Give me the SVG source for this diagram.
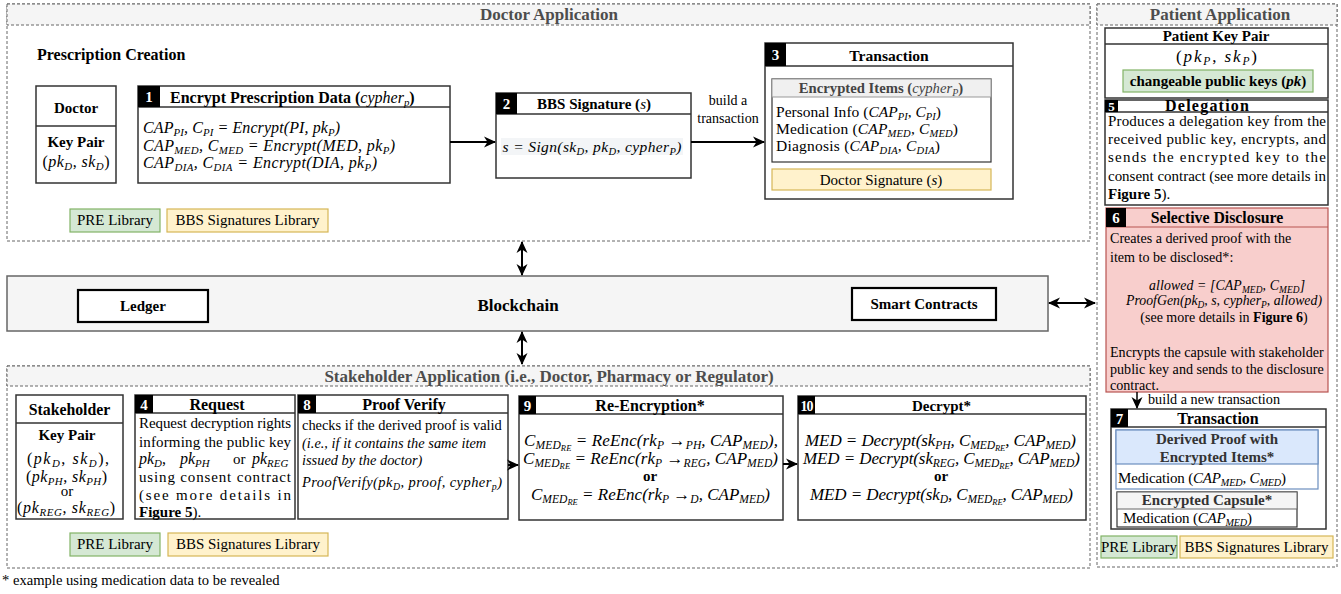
<svg xmlns="http://www.w3.org/2000/svg" width="1341" height="594" viewBox="0 0 1341 594">
<style>
svg{font-size:15px}
text{font-family:"Liberation Serif","Times New Roman",serif;fill:#000}
.ct{fill:none;stroke:#666;stroke-width:1;stroke-dasharray:3 2}
.hd{fill:#f5f5f5;stroke:#666;stroke-width:1;stroke-dasharray:3 2}
.ttl{font-size:17px;font-weight:bold;fill:#4d4d4d;text-anchor:middle}
.box{fill:#fff;stroke:#333;stroke-width:1.5}
.sep{stroke:#333;stroke-width:1.5}
.num{fill:#000}
.nt{fill:#fff;font-size:15px;font-weight:bold;text-anchor:middle}
.h{font-size:16px;font-weight:bold;text-anchor:middle}
.b{font-weight:bold}
.c{text-anchor:middle}
.m{font-style:italic}
.i{font-style:italic}
.s{font-size:0.68em;font-style:italic}
.ss{font-size:0.5em;font-style:italic}
.pre{fill:#d5e8d4;stroke:#82b366;stroke-width:1.2}
.bbs{fill:#fff2cc;stroke:#d6b656;stroke-width:1.2}
.wire{stroke:#000;stroke-width:2;fill:none}
.bc{fill:#fff;stroke:#000;stroke-width:2.2}
</style>
<defs>
<marker id="ah" viewBox="0 0 12 12" refX="11" refY="6" markerWidth="12" markerHeight="12" markerUnits="userSpaceOnUse" orient="auto-start-reverse">
<path d="M0,0.5 L12,6 L0,11.5 L3.5,6 z" fill="#000"/>
</marker>
</defs>

<!-- application containers -->
<g id="doctor-app">
<rect x="7" y="4" width="1083" height="237" class="ct"/>
<rect x="7" y="4" width="1083" height="21" class="hd"/>
<text x="549" y="20" class="ttl">Doctor Application</text>
<text x="37" y="60" class="b" font-size="16">Prescription Creation</text>
</g>
<g id="stakeholder-app">
<rect x="7" y="366" width="1083" height="202" class="ct"/>
<rect x="7" y="366" width="1083" height="20" class="hd"/>
<text x="549" y="382" class="ttl">Stakeholder Application (i.e., Doctor, Pharmacy or Regulator)</text>
</g>
<g id="patient-app">
<rect x="1097" y="4" width="240" height="563" class="ct"/>
<rect x="1097" y="4" width="240" height="21" class="hd"/>
<text x="1220" y="20" class="ttl">Patient Application</text>
</g>

<!-- doctor side -->
<g id="doctor">
<rect x="36" y="86" width="80" height="97" class="box"/>
<line x1="36" y1="126" x2="116" y2="126" class="sep"/>
<text x="76" y="113" class="b c">Doctor</text>
<text x="76" y="147" class="b c">Key Pair</text>
<text x="76" y="167" class="c" font-size="16" textLength="67" lengthAdjust="spacing">(<tspan class="m">pk</tspan><tspan class="s" dy="3">D</tspan><tspan dy="-3">, </tspan><tspan class="m">sk</tspan><tspan class="s" dy="3">D</tspan><tspan dy="-3">)</tspan></text>
</g>

<g id="step1">
<rect x="138" y="86" width="312" height="97" class="box"/>
<line x1="138" y1="107" x2="450" y2="107" class="sep"/>
<rect x="138" y="86" width="22" height="21" class="num"/>
<text x="149" y="102" class="nt">1</text>
<text x="170" y="103" font-size="16" class="b">Encrypt Prescription Data (<tspan class="m" font-weight="normal">cypher</tspan><tspan class="s" font-weight="normal" dy="3">p</tspan><tspan dy="-3">)</tspan></text>
<text x="143" y="133" class="m" font-size="16" textLength="197" lengthAdjust="spacing">CAP<tspan class="s" dy="3">PI</tspan><tspan dy="-3">, C</tspan><tspan class="s" dy="3">PI</tspan><tspan dy="-3"> = Encrypt(PI, pk</tspan><tspan class="s" dy="3">P</tspan><tspan dy="-3">)</tspan></text>
<text x="143" y="151" class="m" font-size="16" textLength="252" lengthAdjust="spacing">CAP<tspan class="s" dy="3">MED</tspan><tspan dy="-3">, C</tspan><tspan class="s" dy="3">MED</tspan><tspan dy="-3"> = Encrypt(MED, pk</tspan><tspan class="s" dy="3">P</tspan><tspan dy="-3">)</tspan></text>
<text x="143" y="168" class="m" font-size="16" textLength="234" lengthAdjust="spacing">CAP<tspan class="s" dy="3">DIA</tspan><tspan dy="-3">, C</tspan><tspan class="s" dy="3">DIA</tspan><tspan dy="-3"> = Encrypt(DIA, pk</tspan><tspan class="s" dy="3">P</tspan><tspan dy="-3">)</tspan></text>
</g>

<g id="step2">
<rect x="496" y="93" width="195" height="85" class="box"/>
<line x1="496" y1="114" x2="691" y2="114" class="sep"/>
<rect x="496" y="93" width="21" height="21" class="num"/>
<text x="506.5" y="109" class="nt">2</text>
<text x="594" y="109" class="b c">BBS Signature (<tspan class="m" font-weight="normal">s</tspan>)</text>
<rect x="501" y="138" width="182" height="17" fill="#f3f5f7"/>
<text x="592" y="152" class="m c" font-size="15.5" textLength="179" lengthAdjust="spacing">s = Sign(sk<tspan class="s" dy="3">D</tspan><tspan dy="-3">, pk</tspan><tspan class="s" dy="3">D</tspan><tspan dy="-3">, cypher</tspan><tspan class="s" dy="3">P</tspan><tspan dy="-3">)</tspan></text>
</g>

<g id="step3">
<rect x="765" y="43" width="248" height="156" class="box"/>
<line x1="765" y1="66" x2="1013" y2="66" class="sep"/>
<rect x="765" y="43" width="21" height="23" class="num"/>
<text x="775.5" y="60" class="nt">3</text>
<text x="889" y="61" class="h" style="font-size:15.6px">Transaction</text>
<rect x="772" y="79" width="219" height="83" fill="#fff" stroke="#333" stroke-width="1.2"/>
<rect x="772" y="79" width="219" height="18" fill="#f0f0f0" stroke="#999" stroke-width="1"/>
<text x="881" y="93" class="b c" font-size="14.7" style="fill:#444">Encrypted Items (<tspan class="m" font-weight="normal">cypher</tspan><tspan class="s" font-weight="normal" dy="3">P</tspan><tspan dy="-3">)</tspan></text>
<text x="776" y="117" font-size="15.5" textLength="165" lengthAdjust="spacing">Personal Info (<tspan class="i">CAP</tspan><tspan class="s" dy="3">PI</tspan><tspan dy="-3">, </tspan><tspan class="i">C</tspan><tspan class="s" dy="3">PI</tspan><tspan dy="-3">)</tspan></text>
<text x="776" y="134" font-size="15.5" textLength="182" lengthAdjust="spacing">Medication (<tspan class="i">CAP</tspan><tspan class="s" dy="3">MED</tspan><tspan dy="-3">, </tspan><tspan class="i">C</tspan><tspan class="s" dy="3">MED</tspan><tspan dy="-3">)</tspan></text>
<text x="776" y="151" font-size="15.5" textLength="164" lengthAdjust="spacing">Diagnosis (<tspan class="i">CAP</tspan><tspan class="s" dy="3">DIA</tspan><tspan dy="-3">, </tspan><tspan class="i">C</tspan><tspan class="s" dy="3">DIA</tspan><tspan dy="-3">)</tspan></text>
<rect x="772" y="169" width="219" height="21" class="bbs"/>
<text x="881" y="185" class="c">Doctor Signature (<tspan class="i">s</tspan>)</text>
</g>

<g id="doctor-libs">
<rect x="70" y="209" width="90" height="23" class="pre"/>
<text x="115" y="225" class="c">PRE Library</text>
<rect x="167" y="209" width="161" height="23" class="bbs"/>
<text x="247.5" y="225" class="c">BBS Signatures Library</text>
</g>

<!-- blockchain layer -->
<g id="blockchain">
<rect x="7" y="276" width="1041" height="55" fill="#f5f5f5" stroke="#666" stroke-width="1.5"/>
<text x="518" y="311" class="h" style="font-size:17px">Blockchain</text>
</g>
<g id="ledger">
<rect x="78" y="290" width="130" height="32" class="bc"/>
<text x="143" y="311" class="b c">Ledger</text>
</g>
<g id="smart-contracts">
<rect x="852" y="288" width="144" height="32" class="bc"/>
<text x="924" y="309" class="b c">Smart Contracts</text>
</g>

<!-- stakeholder side -->
<g id="stakeholder">
<rect x="16" y="395" width="107" height="124" class="box"/>
<line x1="16" y1="423" x2="123" y2="423" class="sep"/>
<text x="69.5" y="415" class="b c" font-size="15.8">Stakeholder</text>
<text x="67" y="440" class="b c">Key Pair</text>
<text x="68" y="464" class="c" font-size="16" textLength="82" lengthAdjust="spacing">(<tspan class="i">pk</tspan><tspan class="s" dy="3">D</tspan><tspan dy="-3">, </tspan><tspan class="i">sk</tspan><tspan class="s" dy="3">D</tspan><tspan dy="-3">),</tspan></text>
<text x="66.5" y="482" class="c" font-size="16" textLength="81" lengthAdjust="spacing">(<tspan class="i">pk</tspan><tspan class="s" dy="3">PH</tspan><tspan dy="-3">, </tspan><tspan class="i">sk</tspan><tspan class="s" dy="3">PH</tspan><tspan dy="-3">)</tspan></text>
<text x="67" y="496" class="c">or</text>
<text x="66" y="513" class="c" font-size="16" textLength="98" lengthAdjust="spacing">(<tspan class="i">pk</tspan><tspan class="s" dy="3">REG</tspan><tspan dy="-3">, </tspan><tspan class="i">sk</tspan><tspan class="s" dy="3">REG</tspan><tspan dy="-3">)</tspan></text>
</g>

<g id="step4">
<rect x="135" y="395" width="160" height="124" class="box"/>
<line x1="135" y1="413" x2="295" y2="413" class="sep"/>
<rect x="135" y="395" width="18" height="18" class="num"/>
<text x="144" y="410" class="nt">4</text>
<text x="217" y="410" class="h">Request</text>
<text x="139" y="428" textLength="152" lengthAdjust="spacing">Request decryption rights</text>
<text x="139" y="447" textLength="152" lengthAdjust="spacing">informing the public key</text>
<text x="139" y="464" font-size="16"><tspan class="i">pk</tspan><tspan class="s" dy="3">D</tspan><tspan dy="-3">,</tspan></text>
<text x="180" y="464" font-size="16"><tspan class="i">pk</tspan><tspan class="s" dy="3">PH</tspan></text>
<text x="233" y="464">or</text>
<text x="252" y="464" font-size="16"><tspan class="i">pk</tspan><tspan class="s" dy="3">REG</tspan></text>
<text x="139" y="482" textLength="152" lengthAdjust="spacing">using consent contract</text>
<text x="139" y="500" textLength="152" lengthAdjust="spacing">(see more details in</text>
<text x="139" y="517"><tspan class="b">Figure 5</tspan>).</text>
</g>

<g id="step8">
<rect x="298" y="395" width="210" height="124" class="box"/>
<line x1="298" y1="413" x2="508" y2="413" class="sep"/>
<rect x="298" y="395" width="18" height="18" class="num"/>
<text x="307" y="410" class="nt">8</text>
<text x="404" y="410" class="h">Proof Verify</text>
<text x="302" y="430" font-size="14.4">checks if the derived proof is valid</text>
<text x="302" y="448" class="i" font-size="14.4">(i.e., if it contains the same item</text>
<text x="302" y="465" class="i" font-size="14.4">issued by the doctor)</text>
<text x="302" y="487" class="m" font-size="14.5" textLength="200" lengthAdjust="spacing">ProofVerify(pk<tspan class="s" dy="3">D</tspan><tspan dy="-3">, proof, cypher</tspan><tspan class="s" dy="3">p</tspan><tspan dy="-3">)</tspan></text>
</g>

<g id="step9">
<rect x="519" y="396" width="264" height="124" class="box"/>
<line x1="519" y1="414" x2="783" y2="414" class="sep"/>
<rect x="519" y="396" width="17" height="18" class="num"/>
<text x="527.5" y="411" class="nt">9</text>
<text x="650" y="411" class="h">Re-Encryption*</text>
<text x="651" y="446" class="m c" font-size="17" textLength="254" lengthAdjust="spacing">C<tspan class="s" dy="3">MED</tspan><tspan class="ss" dy="2">RE</tspan><tspan dy="-5"> = ReEnc(rk</tspan><tspan class="s" dy="3">P</tspan><tspan dy="-3"> →</tspan><tspan class="s" dy="3">PH</tspan><tspan dy="-3">, CAP</tspan><tspan class="s" dy="3">MED</tspan><tspan dy="-3">),</tspan></text>
<text x="650.5" y="464" class="m c" font-size="17" textLength="255" lengthAdjust="spacing">C<tspan class="s" dy="3">MED</tspan><tspan class="ss" dy="2">RE</tspan><tspan dy="-5"> = ReEnc(rk</tspan><tspan class="s" dy="3">P</tspan><tspan dy="-3"> →</tspan><tspan class="s" dy="3">REG</tspan><tspan dy="-3">, CAP</tspan><tspan class="s" dy="3">MED</tspan><tspan dy="-3">)</tspan></text>
<text x="650" y="481" class="b c">or</text>
<text x="650.5" y="500" class="m c" font-size="17" textLength="239" lengthAdjust="spacing">C<tspan class="s" dy="3">MED</tspan><tspan class="ss" dy="2">RE</tspan><tspan dy="-5"> = ReEnc(rk</tspan><tspan class="s" dy="3">P</tspan><tspan dy="-3"> →</tspan><tspan class="s" dy="3">D</tspan><tspan dy="-3">, CAP</tspan><tspan class="s" dy="3">MED</tspan><tspan dy="-3">)</tspan></text>
</g>

<g id="step10">
<rect x="798" y="396" width="288" height="124" class="box"/>
<line x1="798" y1="414" x2="1086" y2="414" class="sep"/>
<rect x="798" y="396" width="17" height="18" class="num"/>
<text x="806.5" y="411" class="nt" style="font-size:14px" letter-spacing="-1">10</text>
<text x="941.5" y="411" class="h" style="font-size:15px">Decrypt*</text>
<text x="940.5" y="446" class="m c" font-size="17" textLength="271" lengthAdjust="spacing">MED = Decrypt(sk<tspan class="s" dy="3">PH</tspan><tspan dy="-3">, C</tspan><tspan class="s" dy="3">MED</tspan><tspan class="ss" dy="2">RE</tspan><tspan dy="-5">, CAP</tspan><tspan class="s" dy="3">MED</tspan><tspan dy="-3">)</tspan></text>
<text x="941.5" y="464" class="m c" font-size="17" textLength="277" lengthAdjust="spacing">MED = Decrypt(sk<tspan class="s" dy="3">REG</tspan><tspan dy="-3">, C</tspan><tspan class="s" dy="3">MED</tspan><tspan class="ss" dy="2">RE</tspan><tspan dy="-5">, CAP</tspan><tspan class="s" dy="3">MED</tspan><tspan dy="-3">)</tspan></text>
<text x="941" y="481" class="b c">or</text>
<text x="941.5" y="500" class="m c" font-size="17" textLength="263" lengthAdjust="spacing">MED = Decrypt(sk<tspan class="s" dy="3">D</tspan><tspan dy="-3">, C</tspan><tspan class="s" dy="3">MED</tspan><tspan class="ss" dy="2">RE</tspan><tspan dy="-5">, CAP</tspan><tspan class="s" dy="3">MED</tspan><tspan dy="-3">)</tspan></text>
</g>

<g id="stakeholder-libs">
<rect x="70" y="533" width="90" height="23" class="pre"/>
<text x="115" y="549" class="c">PRE Library</text>
<rect x="168" y="533" width="160" height="23" class="bbs"/>
<text x="248" y="549" class="c">BBS Signatures Library</text>
</g>

<text x="2" y="585" font-size="14.6">* example using medication data to be revealed</text>

<!-- patient side -->
<g id="patient-keys">
<rect x="1105" y="28" width="223" height="70" class="box"/>
<line x1="1105" y1="44" x2="1328" y2="44" class="sep"/>
<text x="1216" y="41" class="b c">Patient Key Pair</text>
<text x="1216.5" y="62" class="c" font-size="17" textLength="81" lengthAdjust="spacing">(<tspan class="i">pk</tspan><tspan class="s" dy="3">P</tspan><tspan dy="-3">, </tspan><tspan class="i">sk</tspan><tspan class="s" dy="3">P</tspan><tspan dy="-3">)</tspan></text>
<rect x="1123" y="70" width="190" height="22" class="pre"/>
<text x="1218" y="86" class="b c">changeable public keys (<tspan class="i">pk</tspan>)</text>
</g>

<g id="step5">
<rect x="1105" y="100" width="223" height="105" class="box"/>
<line x1="1105" y1="112" x2="1328" y2="112" class="sep"/>
<rect x="1105" y="100" width="13" height="12" class="num"/>
<text x="1111.5" y="111" class="nt" style="font-size:13px">5</text>
<text x="1207" y="110.5" class="b c" font-size="16" textLength="84" lengthAdjust="spacing">Delegation</text>
<text x="1108" y="126" textLength="218" lengthAdjust="spacing">Produces a delegation key from the</text>
<text x="1108" y="144" textLength="218" lengthAdjust="spacing">received public key, encrypts, and</text>
<text x="1108" y="162" textLength="218" lengthAdjust="spacing">sends the encrypted key to the</text>
<text x="1108" y="181" textLength="218" lengthAdjust="spacing">consent contract (see more details in</text>
<text x="1108" y="199"><tspan class="b">Figure 5</tspan>).</text>
</g>

<g id="step6">
<rect x="1106" y="208" width="222" height="184" fill="#f8cecc" stroke="#b85450" stroke-width="1.2"/>
<line x1="1106" y1="227" x2="1328" y2="227" stroke="#b85450" stroke-width="1.2"/>
<rect x="1106" y="208" width="20" height="19" class="num"/>
<text x="1116" y="223" class="nt">6</text>
<text x="1217" y="223" class="h" style="font-size:15.8px">Selective Disclosure</text>
<text x="1110" y="243" font-size="14.1">Creates a derived proof with the</text>
<text x="1110" y="262" font-size="14.1">item to be disclosed*:</text>
<text x="1227" y="290" class="m c" font-size="13.8" textLength="156" lengthAdjust="spacing">allowed = [CAP<tspan class="s" dy="2.5">MED</tspan><tspan dy="-2.5">, C</tspan><tspan class="s" dy="2.5">MED</tspan><tspan dy="-2.5">]</tspan></text>
<text x="1224" y="305" class="m c" font-size="13.8" textLength="196" lengthAdjust="spacing">ProofGen(pk<tspan class="s" dy="2.5">D</tspan><tspan dy="-2.5">, s, cypher</tspan><tspan class="s" dy="2.5">P</tspan><tspan dy="-2.5">, allowed)</tspan></text>
<text x="1224" y="322" class="c" font-size="14">(see more details in <tspan class="b">Figure 6</tspan>)</text>
<text x="1110" y="357" font-size="14.1">Encrypts the capsule with stakeholder</text>
<text x="1110" y="374" font-size="14.1">public key and sends to the disclosure</text>
<text x="1110" y="390" font-size="14.1">contract.</text>
</g>

<g id="step7">
<rect x="1111" y="409" width="215" height="120" class="box"/>
<line x1="1111" y1="427" x2="1326" y2="427" class="sep"/>
<rect x="1111" y="409" width="17" height="18" class="num"/>
<text x="1119.5" y="424" class="nt">7</text>
<text x="1218" y="424" class="h">Transaction</text>
<rect x="1116" y="430" width="202" height="59" fill="#fff" stroke="#6c8ebf" stroke-width="1.2"/>
<rect x="1116" y="430" width="202" height="34" fill="#dae8fc" stroke="#6c8ebf" stroke-width="1.2"/>
<text x="1217" y="444" class="b c" style="fill:#333">Derived Proof with</text>
<text x="1217" y="462" class="b c" style="fill:#333">Encrypted Items*</text>
<text x="1118" y="483" textLength="168" lengthAdjust="spacing">Medication (<tspan class="i">CAP</tspan><tspan class="s" dy="3">MED</tspan><tspan dy="-3">, </tspan><tspan class="i">C</tspan><tspan class="s" dy="3">MED</tspan><tspan dy="-3">)</tspan></text>
<rect x="1117" y="492" width="180" height="35" fill="#fff" stroke="#333" stroke-width="1.2"/>
<rect x="1117" y="492" width="180" height="17" fill="#f5f5f5" stroke="#666" stroke-width="1"/>
<text x="1207" y="505" class="b c" style="fill:#333">Encrypted Capsule*</text>
<text x="1123" y="523" textLength="129" lengthAdjust="spacing">Medication (<tspan class="i">CAP</tspan><tspan class="s" dy="3">MED</tspan><tspan dy="-3">)</tspan></text>
</g>

<g id="patient-libs">
<rect x="1101" y="536" width="76" height="22" class="pre"/>
<text x="1139" y="552" class="c">PRE Library</text>
<rect x="1180" y="536" width="153" height="22" class="bbs"/>
<text x="1256.5" y="552" class="c">BBS Signatures Library</text>
</g>

<!-- connectors -->
<g id="connectors">
<line x1="450" y1="142" x2="495" y2="142" class="wire" marker-end="url(#ah)"/>
<line x1="691" y1="142" x2="764" y2="142" class="wire" marker-end="url(#ah)"/>
<text x="728" y="105" class="c" font-size="14">build a</text>
<text x="728" y="123" class="c" font-size="14">transaction</text>
<line x1="522" y1="242" x2="522" y2="275" class="wire" marker-start="url(#ah)" marker-end="url(#ah)"/>
<line x1="522" y1="332" x2="522" y2="364" class="wire" marker-start="url(#ah)" marker-end="url(#ah)"/>
<line x1="1049" y1="303" x2="1095" y2="303" class="wire" marker-start="url(#ah)" marker-end="url(#ah)"/>
<line x1="508" y1="465" x2="518" y2="465" class="wire" marker-end="url(#ah)"/>
<line x1="783" y1="464" x2="797" y2="464" class="wire" marker-end="url(#ah)"/>
<line x1="1137" y1="392" x2="1137" y2="408" stroke="#000" stroke-width="1.5" marker-end="url(#ah)"/>
<text x="1148" y="404" font-size="14.2">build a new transaction</text>
</g>
</svg>
